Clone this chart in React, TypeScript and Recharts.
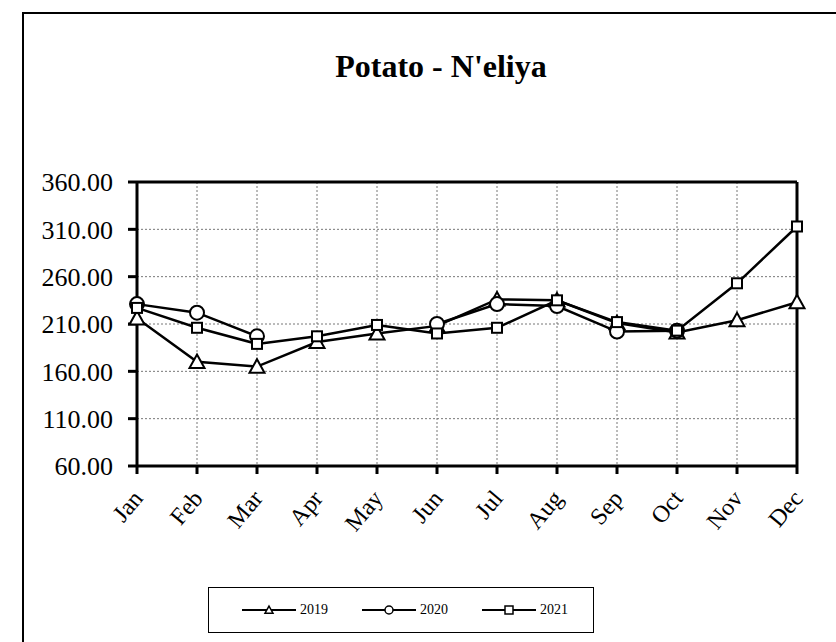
import { LineChart, Line, XAxis, YAxis, CartesianGrid, ReferenceLine } from "recharts";

const months = ["Jan", "Feb", "Mar", "Apr", "May", "Jun", "Jul", "Aug", "Sep", "Oct", "Nov", "Dec"];
const y2019 = [216, 170, 165, 191, 200, 208, 236, 235, 211, 201, 214, 233];
const y2020 = [231, 222, 197, null, null, 210, 231, 229, 202, 203, null, null];
const y2021 = [227, 206, 189, 197, 209, 200, 206, 235, 212, 203, 253, 313];
const yTicks = [60, 110, 160, 210, 260, 310, 360];

const data = months.map((m, i) => ({ month: m, y2019: y2019[i], y2020: y2020[i], y2021: y2021[i] }));

const FONT = "'Liberation Serif', 'Times New Roman', serif";

type Shape = "triangle" | "circle" | "square";

const marker = (shape: Shape, cx: number, cy: number, s: number, sw: number) => {
  if (shape === "circle") return <circle cx={cx} cy={cy} r={s} fill="#fff" stroke="#000" strokeWidth={sw} />;
  if (shape === "square")
    return <rect x={cx - s} y={cy - s} width={s * 2} height={s * 2} fill="#fff" stroke="#000" strokeWidth={sw} />;
  const h = s * 1.8;
  return (
    <path
      d={`M${cx},${cy - h * 0.55} L${cx + s},${cy + h * 0.45} L${cx - s},${cy + h * 0.45} Z`}
      fill="#fff"
      stroke="#000"
      strokeWidth={sw}
    />
  );
};

const makeDot = (shape: Shape, size: number) => (props: any) => {
  const { cx, cy, index } = props;
  if (cx == null || cy == null || props.value == null) return <g key={`d-${shape}-${index}`} />;
  return <g key={`d-${shape}-${index}`}>{marker(shape, cx, cy, size, 2)}</g>;
};

const MonthTick = (props: any) => {
  const { x, y, payload } = props;
  return (
    <g transform={`translate(${x + 7},${y + 23})`}>
      <text transform="rotate(-50)" textAnchor="end" fontSize={24} fontFamily={FONT} fill="#000">
        {payload.value}
      </text>
    </g>
  );
};

const series: { key: string; name: string; shape: Shape; size: number }[] = [
  { key: "y2019", name: "2019", shape: "triangle", size: 7.5 },
  { key: "y2020", name: "2020", shape: "circle", size: 7 },
  { key: "y2021", name: "2021", shape: "square", size: 5 },
];

export default function App() {
  return (
    <div style={{ position: "absolute", left: 0, top: 0, width: 836, height: 642, overflow: "hidden", background: "#fff" }}>
      <div
        style={{
          position: "absolute",
          left: 22,
          top: 12,
          width: 900,
          height: 800,
          border: "2px solid #000",
        }}
      />
      <div
        style={{
          position: "absolute",
          left: 0,
          width: 882,
          top: 50,
          lineHeight: "32px",
          textAlign: "center",
          fontFamily: FONT,
          fontWeight: "bold",
          fontSize: 32,
        }}
      >
        Potato - N'eliya
      </div>
      <div style={{ position: "absolute", left: 0, top: 0 }}>
        <LineChart width={836} height={642} data={data} margin={{ top: 182, right: 39, bottom: 116, left: 37 }}>
          <CartesianGrid stroke="#777" strokeDasharray="2 2" strokeWidth={1} />
          <XAxis
            dataKey="month"
            tick={<MonthTick />}
            tickSize={8}
            interval={0}
            height={60}
            axisLine={{ stroke: "#000", strokeWidth: 3 }}
            tickLine={{ stroke: "#000", strokeWidth: 3 }}
          />
          <YAxis
            domain={[60, 360]}
            ticks={yTicks}
            width={100}
            tickSize={9}
            tickMargin={15}
            tickFormatter={(v: number) => v.toFixed(2)}
            tick={{ fontSize: 26, fontFamily: FONT, fill: "#000" }}
            axisLine={{ stroke: "#000", strokeWidth: 3 }}
            tickLine={{ stroke: "#000", strokeWidth: 3 }}
            allowDataOverflow
          />
          <ReferenceLine y={360} stroke="#000" strokeWidth={3} />
          <ReferenceLine x="Dec" stroke="#000" strokeWidth={3} />
          {series.map((s) => (
            <Line
              key={s.key}
              type="linear"
              dataKey={s.key}
              name={s.name}
              stroke="#000"
              strokeWidth={2.5}
              dot={makeDot(s.shape, s.size)}
              activeDot={false}
              connectNulls={false}
              isAnimationActive={false}
            />
          ))}
        </LineChart>
      </div>
      <div
        style={{
          position: "absolute",
          left: 208,
          top: 587,
          width: 386,
          height: 46,
          border: "1px solid #000",
          display: "flex",
          alignItems: "center",
          boxSizing: "border-box",
          paddingLeft: 33,
          gap: 34,
          fontFamily: FONT,
          fontSize: 14,
        }}
      >
        {series.map((s) => (
          <div key={s.key} style={{ display: "flex", alignItems: "center" }}>
            <svg width={54} height={14}>
              <line x1={0} y1={7} x2={54} y2={7} stroke="#000" strokeWidth={2} />
              {marker(s.shape, 27, 7, 4, 1.5)}
            </svg>
            <span style={{ marginLeft: 4 }}>{s.name}</span>
          </div>
        ))}
      </div>
    </div>
  );
}
